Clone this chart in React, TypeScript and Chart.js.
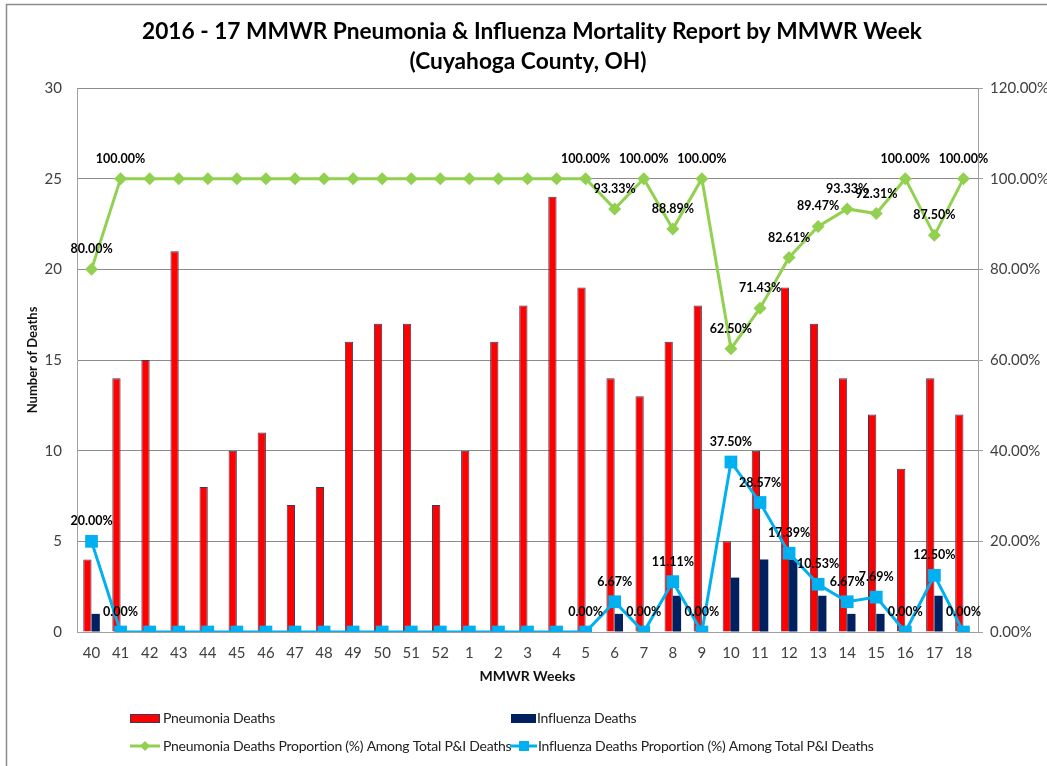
import React, { useEffect, useRef } from 'react';
import { Chart, registerables } from 'chart.js';

Chart.register(...registerables);

const weeks = ['40', '41', '42', '43', '44', '45', '46', '47', '48', '49', '50', '51', '52', '1', '2', '3', '4', '5', '6', '7', '8', '9', '10', '11', '12', '13', '14', '15', '16', '17', '18'];
const pneumoniaDeaths = [4, 14, 15, 21, 8, 10, 11, 7, 8, 16, 17, 17, 7, 10, 16, 18, 24, 19, 14, 13, 16, 18, 5, 10, 19, 17, 14, 12, 9, 14, 12];
const influenzaDeaths = [1, 0, 0, 0, 0, 0, 0, 0, 0, 0, 0, 0, 0, 0, 0, 0, 0, 0, 1, 0, 2, 0, 3, 4, 4, 2, 1, 1, 0, 2, 0];
const pneumoniaPct = [80, 100, 100, 100, 100, 100, 100, 100, 100, 100, 100, 100, 100, 100, 100, 100, 100, 100, 93.33, 100, 88.89, 100, 62.5, 71.43, 82.61, 89.47, 93.33, 92.31, 100, 87.5, 100];
const influenzaPct = [20, 0, 0, 0, 0, 0, 0, 0, 0, 0, 0, 0, 0, 0, 0, 0, 0, 0, 6.67, 0, 11.11, 0, 37.5, 28.57, 17.39, 10.53, 6.67, 7.69, 0, 12.5, 0];
const labeledWeeks = ['40', '41', '5', '6', '7', '8', '9', '10', '11', '12', '13', '14', '15', '16', '17', '18'];

const titleLines = ['2016 - 17 MMWR Pneumonia & Influenza Mortality Report by MMWR Week', '(Cuyahoga County, OH)'];
const legendLabels = ['Pneumonia Deaths', 'Influenza Deaths', 'Pneumonia Deaths Proportion (%) Among Total P&I Deaths', 'Influenza Deaths Proportion (%) Among Total P&I Deaths'];

const RED = '#FF0000';
const NAVY = '#002060';
const GREEN = '#92D050';
const BLUE = '#00B0F0';
const FONT = 'Lato, "Open Sans", sans-serif';

const pctLabelPlugin = {
  id: 'pctLabels',
  afterDatasetsDraw(chart: any) {
    const ctx = chart.ctx;
    ctx.save();
    ctx.font = `bold 12.5px ${FONT}`;
    ctx.fillStyle = '#000';
    ctx.textAlign = 'center';
    ctx.textBaseline = 'middle';
    [2, 3].forEach((di) => {
      const meta = chart.getDatasetMeta(di);
      const data = chart.data.datasets[di].data as number[];
      meta.data.forEach((pt: any, i: number) => {
        if (!labeledWeeks.includes(weeks[i])) return;
        ctx.fillText(data[i].toFixed(2) + '%', pt.x, pt.y - 20);
      });
    });
    ctx.restore();
  },
};

const decorPlugin = {
  id: 'decor',
  beforeDraw(chart: any) {
    const ctx = chart.ctx;
    ctx.save();
    ctx.fillStyle = '#fff';
    ctx.fillRect(0, 0, chart.width, chart.height);
    ctx.restore();
  },
  afterDraw(chart: any) {
    const ctx = chart.ctx;
    ctx.save();
    // outer border
    ctx.strokeStyle = '#8c8c8c';
    ctx.lineWidth = 1.5;
    ctx.strokeRect(6.5, 4.5, chart.width + 50, chart.height + 50);
    // title
    ctx.fillStyle = '#000';
    ctx.font = `bold 22.7px ${FONT}`;
    ctx.textAlign = 'center';
    ctx.textBaseline = 'middle';
    ctx.fillText(titleLines[0], 532, 32);
    ctx.fillText(titleLines[1], 528, 62);
    // legend
    ctx.font = `14px ${FONT}`;
    (ctx as any).letterSpacing = '-0.25px';
    ctx.textAlign = 'left';
    ctx.fillStyle = '#222';
    ctx.fillText(legendLabels[0], 163, 718);
    ctx.fillText(legendLabels[1], 537, 718);
    ctx.fillText(legendLabels[2], 163, 746);
    ctx.fillText(legendLabels[3], 538, 746);
    (ctx as any).letterSpacing = '0px';
    ctx.fillStyle = RED;
    ctx.fillRect(130, 714, 30, 9);
    ctx.strokeStyle = '#3a3a5a';
    ctx.lineWidth = 1;
    ctx.strokeRect(130.5, 714.5, 29, 8);
    ctx.fillStyle = NAVY;
    ctx.fillRect(511, 714, 25, 9);
    // green line legend
    ctx.strokeStyle = GREEN;
    ctx.lineWidth = 3;
    ctx.beginPath();
    ctx.moveTo(130, 746);
    ctx.lineTo(160, 746);
    ctx.stroke();
    ctx.fillStyle = GREEN;
    ctx.beginPath();
    ctx.moveTo(145, 741);
    ctx.lineTo(150, 746);
    ctx.lineTo(145, 751);
    ctx.lineTo(140, 746);
    ctx.closePath();
    ctx.fill();
    ctx.strokeStyle = BLUE;
    ctx.beginPath();
    ctx.moveTo(510, 746);
    ctx.lineTo(537, 746);
    ctx.stroke();
    ctx.fillStyle = BLUE;
    ctx.fillRect(519, 741, 10, 10);
    ctx.restore();
  },
};

export default function App() {
  const ref = useRef<HTMLCanvasElement>(null);
  useEffect(() => {
    document.body.style.margin = '0';
    const canvas = ref.current!;
    const chart = new Chart(canvas, {
      type: 'bar',
      data: {
        labels: weeks,
        datasets: [
          {
            type: 'bar',
            label: legendLabels[0],
            data: pneumoniaDeaths,
            backgroundColor: RED,
            borderColor: '#3a3a5a',
            borderWidth: 1,
            yAxisID: 'y',
            order: 1,
            categoryPercentage: 0.57,
            barPercentage: 1,
          },
          {
            type: 'bar',
            label: legendLabels[1],
            data: influenzaDeaths,
            backgroundColor: NAVY,
            borderWidth: 0,
            yAxisID: 'y',
            order: 1,
            categoryPercentage: 0.57,
            barPercentage: 1,
          },
          {
            type: 'line',
            label: legendLabels[2],
            data: pneumoniaPct,
            borderColor: GREEN,
            backgroundColor: GREEN,
            borderWidth: 3,
            pointStyle: 'rectRot',
            pointRadius: 6.5,
            pointBorderWidth: 0,
            yAxisID: 'y1',
            order: 0,
          },
          {
            type: 'line',
            label: legendLabels[3],
            data: influenzaPct,
            borderColor: BLUE,
            backgroundColor: BLUE,
            borderWidth: 3,
            pointStyle: 'rect',
            pointRadius: 9,
            pointBorderWidth: 0,
            yAxisID: 'y1',
            order: 0,
          },
        ] as any,
      },
      options: {
        responsive: false,
        animation: false,
        layout: { padding: { top: 88, bottom: 74, left: 0, right: 0 } },
        plugins: {
          legend: { display: false },
          title: { display: false },
          tooltip: { enabled: false },
        },
        scales: {
          x: {
            grid: { display: false, drawTicks: false },
            border: { color: '#a0a0a0' },
            ticks: { font: { family: FONT, size: 15 }, color: '#404040', padding: 12, maxRotation: 0, autoSkip: false },
            title: { display: true, text: 'MMWR Weeks', font: { family: FONT, size: 14, weight: 'bold' }, color: '#111', padding: { top: 4, bottom: 7 } },
            afterFit: (s: any) => { s.height = 60; },
          },
          y: {
            position: 'left',
            min: 0,
            max: 30,
            ticks: { stepSize: 5, font: { family: FONT, size: 15 }, color: '#404040', padding: 15 },
            grid: { color: '#8c8c8c', drawTicks: false },
            border: { color: '#a0a0a0' },
            title: { display: true, text: 'Number of Deaths', font: { family: FONT, size: 13, weight: 'bold' }, color: '#111', padding: { top: 25, bottom: 0 } },
            afterFit: (s: any) => { s.width = 77; },
          },
          y1: {
            position: 'right',
            min: 0,
            max: 120,
            ticks: { stepSize: 20, font: { family: FONT, size: 15 }, color: '#404040', padding: 7, callback: (v: any) => Number(v).toFixed(2) + '%' },
            grid: { drawOnChartArea: false, drawTicks: true, tickLength: 5, color: '#a0a0a0' },
            border: { color: '#a0a0a0' },
            afterFit: (s: any) => { s.width = 69; },
          },
        },
      } as any,
      plugins: [decorPlugin, pctLabelPlugin],
    });
    return () => chart.destroy();
  }, []);
  return (
    <div style={{ width: 1047, height: 766 }}>
      <canvas ref={ref} width={1047} height={766} style={{ display: 'block' }} />
    </div>
  );
}
